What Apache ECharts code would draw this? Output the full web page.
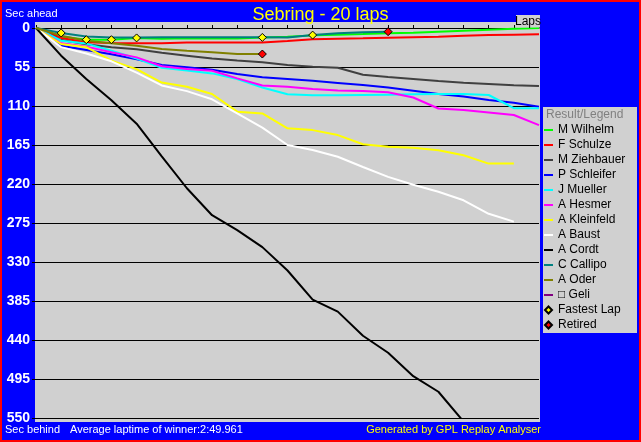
<!DOCTYPE html>
<html><head><meta charset="utf-8">
<script src="https://cdn.jsdelivr.net/npm/echarts@6/dist/echarts.min.js"></script>
<style>html,body{margin:0;padding:0;background:#0000ff;}#c{width:641px;height:442px;}</style>
</head><body><div id="c"></div>
<script>
// ---- data (seconds behind the winner's average pace, per lap from lap 0) ----
const titleText = 'Sebring - 20 laps';
const yTicks = [0, 55, 110, 165, 220, 275, 330, 385, 440, 495, 550];
const drivers = ['M Wilhelm', 'F Schulze', 'M Ziehbauer', 'P Schleifer', 'J Mueller', 'A Hesmer',
  'A Kleinfeld', 'A Baust', 'A Cordt', 'C Callipo', 'A Oder', '\u25A1 Geli'];
const wilhelm   = [0, 12, 16.5, 16.5, 14, 15, 14.6, 14.8, 14.8, 13.5, 12.2, 10.4, 9.4, 8.5, 7.5, 6.6, 5.2, 3.8, 2.4, 1.0, 0];
const schulze   = [0, 14, 20, 21, 21.5, 21.5, 20.5, 20.5, 20.5, 20.5, 18.4, 16, 15, 14.5, 13.7, 13, 12.2, 11, 9.9, 9.4, 8.9];
const ziehbauer = [0, 17, 23, 27, 30, 35, 39, 43, 46, 48.4, 52.3, 54.6, 56, 66, 69.2, 72, 74.9, 77.2, 79, 80.9, 81.9];
const schleifer = [0, 25, 31, 37, 44, 52, 55.4, 58.8, 64.9, 69.6, 72, 74.5, 77.5, 80.5, 84, 88.5, 93, 96.5, 101.5, 105.5, 111];
const mueller   = [0, 18, 22, 32, 43, 56, 60, 64, 72, 84, 93.5, 95, 95, 94.5, 94, 93.5, 93, 93, 94.5, 113, 113.3];
const hesmer    = [0, 21.6, 26.3, 34.3, 41.4, 54, 57.8, 60.2, 71, 81, 83, 86, 88, 89, 90.5, 98, 113.5, 115.7, 119, 122.7, 137];
const kleinfeld = [0, 22.6, 27, 46, 58, 77, 82.8, 93, 118, 120.5, 141.5, 144, 151, 164, 167.4, 169, 172.4, 179.5, 191.2, 191.2];
const baust     = [0, 27, 36, 47, 63, 81, 89, 100.5, 120.4, 140.6, 165, 172, 181.5, 196, 210, 221, 231, 243, 262, 273];
const cordt     = [0, 39, 72, 102, 135, 181, 226, 264, 285, 309, 342, 383, 400, 434, 458, 491, 513, 555];
const callipo   = [0, 7, 12, 13.5, 13.5, 13, 13, 13, 13, 13, 13.5, 10, 7.5, 6.1, 5.2];
const oder      = [0, 10.8, 18, 21.6, 25, 29.6, 32, 34.3, 36.7, 36.7];
const geli      = [];
const fastestLapLaps   = [1, 2, 3, 4, 9, 11];
const fastestLapValues = [7, 16.5, 16.5, 14, 13.3, 10];
const retiredLaps      = [9, 14];
const retiredValues    = [36.7, 5.2];

// ---- styling ----
const driverValues = [wilhelm, schulze, ziehbauer, schleifer, mueller, hesmer, kleinfeld, baust, cordt, callipo, oder, geli];
const driverColors = ['#00ff00', '#ff0000', '#404040', '#0000ff', '#00ffff', '#ff00ff',
  '#ffff00', '#ffffff', '#000000', '#008080', '#808000', '#800080'];
const FONT = '"Liberation Sans", Arial, sans-serif';
const GRAY = '#d0d0d0';

const series = driverValues.map((vals, k) => ({
  type: 'line', name: drivers[k],
  data: vals.map((v, i) => [i, v]),
  symbol: 'none', clip: true, animation: false,
  lineStyle: { color: driverColors[k], width: 2 },
  itemStyle: { color: driverColors[k] },
  z: 2
}));
series.push({
  type: 'scatter', name: 'Fastest Lap', animation: false,
  data: fastestLapLaps.map((l, i) => [l, fastestLapValues[i]]),
  symbol: 'diamond', symbolSize: 8,
  itemStyle: { color: '#ffff00', borderColor: '#000', borderWidth: 1, opacity: 1 }, z: 5
});
series.push({
  type: 'scatter', name: 'Retired', animation: false,
  data: retiredLaps.map((l, i) => [l, retiredValues[i]]),
  symbol: 'diamond', symbolSize: 8,
  itemStyle: { color: '#ff0000', borderColor: '#000', borderWidth: 1, opacity: 1 }, z: 5
});

const lineIcon = 'path://M0,0H9V2H0Z';
const diamondIcon = 'path://M4,0L8,4L4,8L0,4Z';
const legendData = drivers.map(n => ({ name: n, icon: lineIcon }))
  .concat([{ name: 'Fastest Lap', icon: diamondIcon }, { name: 'Retired', icon: diamondIcon }]);

const chart = echarts.init(document.getElementById('c'), null, { renderer: 'canvas' });
chart.setOption({
  backgroundColor: '#0000ff',
  animation: false,
  title: {
    text: titleText, left: 'center', top: 1, z: 30,
    textStyle: { color: '#ffff00', fontSize: 18, fontWeight: 'normal', fontFamily: FONT }
  },
  grid: { left: 36, right: 102, top: 28, bottom: 24 },
  xAxis: {
    type: 'value', position: 'top', min: 0, max: 20, interval: 1,
    axisLine: { show: true, lineStyle: { color: '#000', width: 1 } },
    axisTick: { show: true, length: 3, lineStyle: { color: '#000' } },
    axisLabel: { show: false }, splitLine: { show: false }
  },
  yAxis: {
    type: 'value', inverse: true, min: yTicks[0], max: yTicks[yTicks.length - 1], interval: 55,
    axisLine: { show: false },
    axisTick: { show: true, length: 4, lineStyle: { color: '#000' } },
    axisLabel: { color: '#ffffff', fontWeight: 'bold', fontSize: 14, margin: 6, fontFamily: FONT },
    splitLine: { show: true, lineStyle: { color: '#000', width: 1 } }
  },
  legend: {
    orient: 'vertical', left: 544, top: 124, padding: 0, itemGap: 3, itemWidth: 9, itemHeight: 7,
    selectedMode: false, data: legendData,
    textStyle: { color: '#000', fontSize: 12, lineHeight: 12, fontFamily: FONT }
  },
  graphic: [
    { type: 'rect', z: -10, shape: { x: 35, y: 22, width: 505, height: 400 }, style: { fill: GRAY } },
    { type: 'rect', z: -10, shape: { x: 543, y: 107, width: 94, height: 226 }, style: { fill: GRAY } },
    { type: 'rect', z: 20, shape: { x: 516, y: 15, width: 24, height: 12.5 }, style: { fill: GRAY } },
    { type: 'text', z: 21, style: { x: 528, y: 21.5, text: 'Laps', fill: '#000', font: '12px ' + FONT, align: 'center', verticalAlign: 'middle' } },
    { type: 'text', z: 21, style: { x: 546, y: 115, text: 'Result/Legend', fill: '#808080', font: '12px ' + FONT, verticalAlign: 'middle' } },
    { type: 'text', z: 21, style: { x: 5, y: 14, text: 'Sec ahead', fill: '#fff', font: '11px ' + FONT, verticalAlign: 'middle' } },
    { type: 'text', z: 21, style: { x: 5, y: 430, text: 'Sec behind', fill: '#fff', font: '11px ' + FONT, verticalAlign: 'middle' } },
    { type: 'text', z: 21, style: { x: 70, y: 430, text: 'Average laptime of winner:2:49.961', fill: '#fff', font: '11px ' + FONT, verticalAlign: 'middle' } },
    { type: 'text', z: 21, style: { x: 541, y: 430, text: 'Generated by GPL Replay Analyser', fill: '#ffff00', font: '11px ' + FONT, align: 'right', verticalAlign: 'middle' } },
    { type: 'rect', z: 100, shape: { x: 1, y: 1, width: 639, height: 440 }, style: { fill: 'none', stroke: '#ff0000', lineWidth: 2 } }
  ],
  series: series
});
</script>
</body></html>
